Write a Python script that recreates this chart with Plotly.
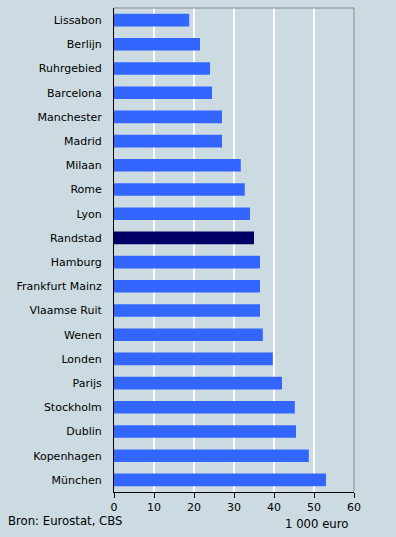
import plotly.graph_objects as go

cities = ["Lissabon", "Berlijn", "Ruhrgebied", "Barcelona", "Manchester", "Madrid",
          "Milaan", "Rome", "Lyon", "Randstad", "Hamburg", "Frankfurt Mainz",
          "Vlaamse Ruit", "Wenen", "Londen", "Parijs", "Stockholm", "Dublin",
          "Kopenhagen", "München"]
values = [18.8, 21.5, 24.0, 24.5, 27.0, 27.0, 31.7, 32.7, 34.0, 35.0, 36.5, 36.5,
          36.5, 37.2, 39.7, 42.0, 45.2, 45.5, 48.7, 53.0]
highlight = "Randstad"
x_ticks = [0, 10, 20, 30, 40, 50, 60]

BG = "#CCDBE1"
colors = ["#000066" if c == highlight else "#3366FF" for c in cities]

fig = go.Figure(go.Bar(
    x=values, y=cities, orientation="h",
    marker=dict(color=colors, line=dict(width=0)),
    width=0.52, hoverinfo="x+y",
))

font = dict(family="DejaVu Sans, Verdana, sans-serif", size=11, color="#000000")
font2 = dict(family="DejaVu Sans, Verdana, sans-serif", size=11.7, color="#000000")

fig.update_layout(
    width=396, height=537,
    margin=dict(l=114, r=42, t=8, b=45),
    paper_bgcolor=BG, plot_bgcolor=BG,
    font=font,
    showlegend=False,
    xaxis=dict(
        range=[0, 60], tickvals=x_ticks, ticktext=[str(t) for t in x_ticks],
        showgrid=True, gridcolor="#FFFFFF", gridwidth=1.5,
        zeroline=False, showline=True, linecolor="#000000", linewidth=1,
        ticks="outside", ticklen=5, tickcolor="#000000",
        fixedrange=True,
    ),
    yaxis=dict(
        autorange="reversed", showgrid=False, zeroline=False,
        showline=True, linecolor="#000000", linewidth=1,
        ticks="", ticklabelstandoff=9, fixedrange=True,
    ),
    shapes=[
        dict(type="line", xref="paper", yref="paper", x0=0, x1=1, y0=1, y1=1,
             line=dict(color="#888888", width=1)),
        dict(type="line", xref="paper", yref="paper", x0=1, x1=1, y0=0, y1=1,
             line=dict(color="#888888", width=1)),
    ],
    annotations=[
        dict(text="Bron: Eurostat, CBS", xref="paper", yref="paper",
             x=-108/240, y=-29/484, xanchor="left", yanchor="middle",
             showarrow=False, font=font2),
        dict(text="1 000 euro", xref="paper", yref="paper",
             x=1 - 4/240, y=-32/484, xanchor="right", yanchor="middle",
             showarrow=False, font=font2),
    ],
)

fig.write_html("out.html", config={"displayModeBar": False},
               post_script="document.body.style.margin='0';document.body.style.background='" + BG + "';")
